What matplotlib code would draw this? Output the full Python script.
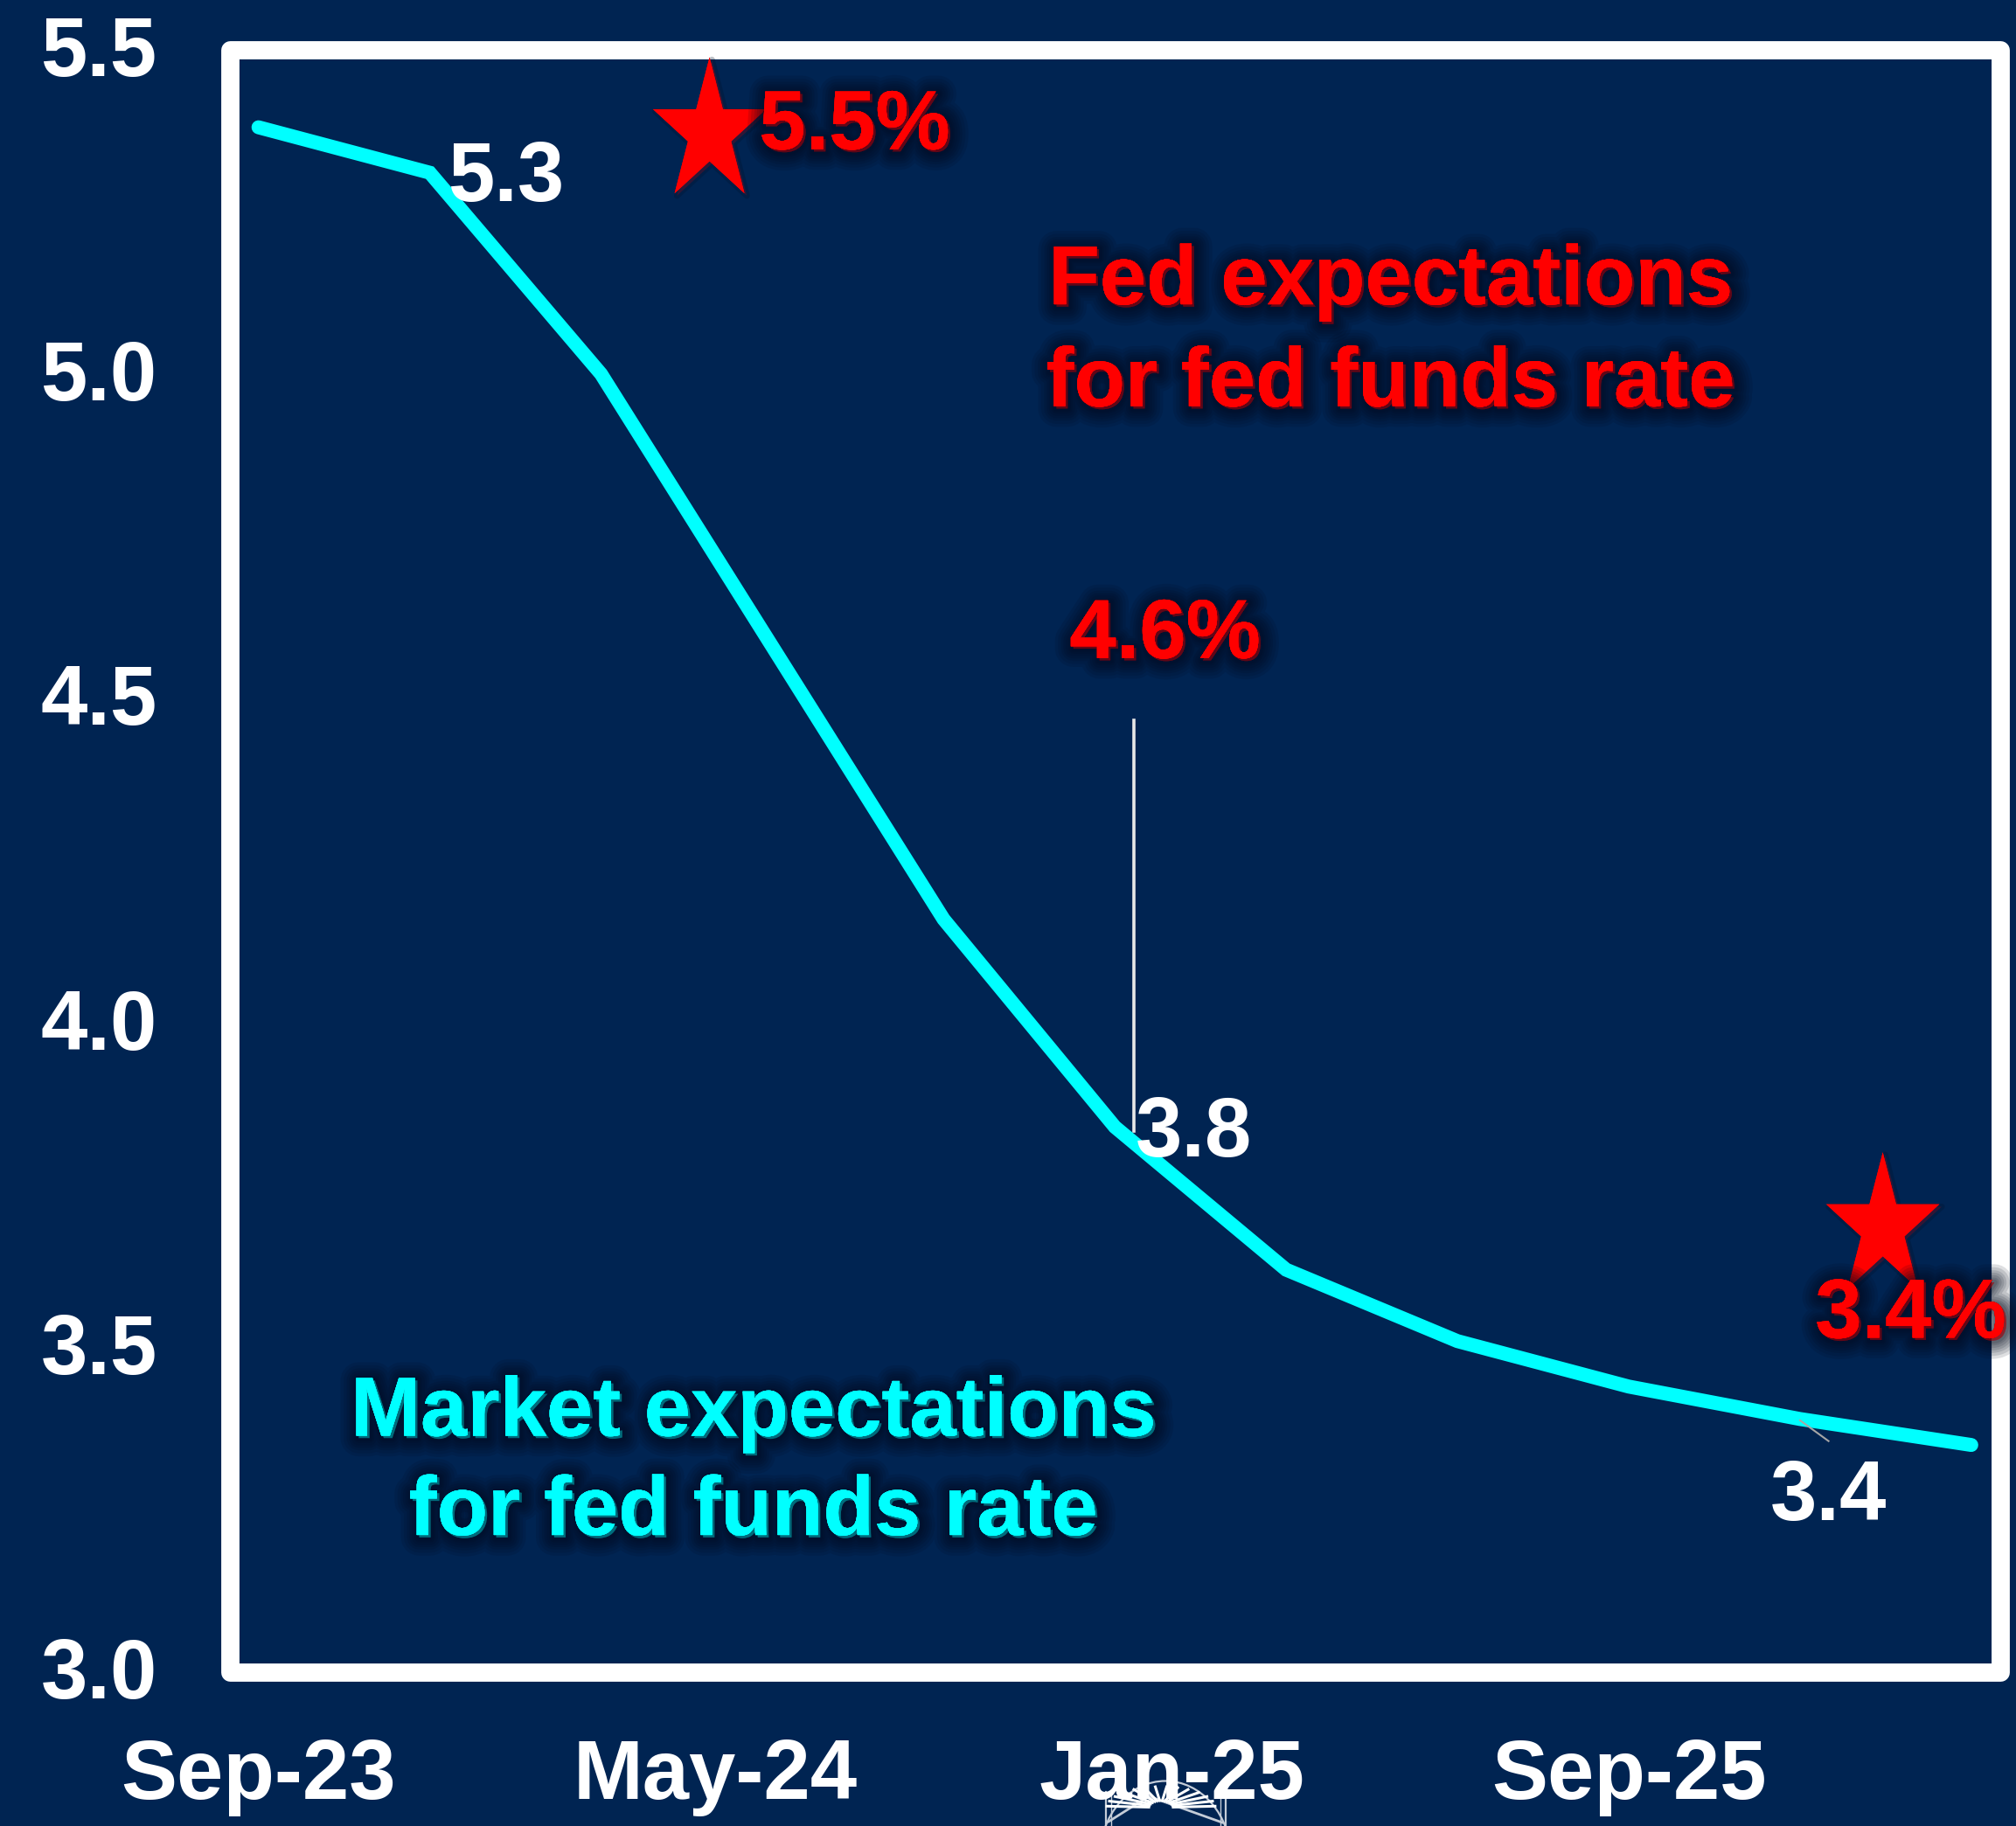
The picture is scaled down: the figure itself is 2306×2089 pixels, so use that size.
import numpy as np
import matplotlib
matplotlib.use('Agg')
import matplotlib.pyplot as plt
import matplotlib.patheffects as pe
from matplotlib.path import Path
from matplotlib.patches import Rectangle, Arc
from matplotlib.transforms import ScaledTranslation

plt.rcParams['font.family'] = ['Liberation Sans', 'DejaVu Sans']
plt.rcParams['font.weight'] = 'bold'

BG = '#002452'
CYAN = '#00FFFF'
RED = '#FF0000'

# months since Sep-23, quarterly readings
market_months = [0, 3, 6, 9, 12, 15, 18, 21, 24, 27, 30]
market_rate = [5.38, 5.31, 5.00, 4.58, 4.16, 3.84, 3.62, 3.51, 3.44, 3.39, 3.35]

# Fed dots
fed_months = [7.9, 28.45]
fed_rate = [5.372, 3.685]

tick_months = [0, 8, 16, 24]
tick_labels = ['Sep-23', 'May-24', 'Jan-25', 'Sep-25']
y_ticks = [3.0, 3.5, 4.0, 4.5, 5.0, 5.5]

FS = 69

fig = plt.figure(figsize=(23.06, 20.89), dpi=100, facecolor=BG)
ax = fig.add_axes([263 / 2306, (2089 - 1913) / 2089, (2287.5 - 263) / 2306, (1913 - 56.5) / 2089], facecolor=BG)
ax.set_xlim(-0.5, 30.5)
ax.set_ylim(3.0, 5.5)

# seal peeking out under the x labels
seal = fig.add_axes([0, 0, 1, 1], facecolor='none', zorder=-1)
seal.set_xlim(0, 2306)
seal.set_ylim(2089, 0)
seal.axis('off')
seal_col = '#C4CCD8'
seal.plot([1265, 1265], [2050, 2089], color=seal_col, lw=1.6)
seal.plot([1271, 1271], [2050, 2089], color=seal_col, lw=1.0)
seal.plot([1402, 1402], [2050, 2089], color=seal_col, lw=1.6)
seal.plot([1396, 1396], [2050, 2089], color=seal_col, lw=1.0)
seal.add_patch(Arc((1333, 2125), 150, 175, theta1=180, theta2=360, color=seal_col, lw=1.6))
seal.plot([1268, 1314, 1398], [2084, 2055, 2085], color=seal_col, lw=2)
for ang in [4, 18, 32, 46, 60, 72, 84, 96, 108, 120, 134, 148, 162, 176]:
    a = np.radians(ang)
    seal.plot([1328 + 14 * np.cos(a), 1328 + 62 * np.cos(a)],
              [2068 - 8 * np.sin(a), 2068 - 24 * np.sin(a)], color='white', lw=2.2)

for s in ax.spines.values():
    s.set_visible(False)
ax.add_patch(Rectangle((0, 0), 1, 1, transform=ax.transAxes, fill=False, edgecolor='white',
                       linewidth=15, joinstyle='round', clip_on=False, zorder=2))

ax.set_xticks(tick_months)
ax.set_xticklabels(tick_labels)
ax.set_yticks(y_ticks)
ax.set_yticklabels(['%.1f' % v for v in y_ticks])
ax.tick_params(axis='x', length=0, pad=54, labelsize=FS, labelcolor='white')
ax.tick_params(axis='y', length=0, pad=60, labelsize=FS, labelcolor='white')
for lb in ax.get_yticklabels():
    lb.set_transform(lb.get_transform() + ScaledTranslation(0, 3.5 / 72, fig.dpi_scale_trans))

# thin leaders
ax.plot([15.33, 15.33], [4.466, 3.833], color='#E8E8E8', lw=2.6, zorder=3)
ax.plot([27.0, 27.5], [3.388, 3.356], color='#A6A6A6', lw=1.5, zorder=5)

ax.plot(market_months, market_rate, color=CYAN, lw=11.5, solid_capstyle='round',
        solid_joinstyle='miter', zorder=4)

# stretched 5 point star
star = Path.unit_regular_star(5, innerCircle=0.381966)
star_path = Path(star.vertices * [0.79, 1.0], star.codes)
ax.plot(fed_months, fed_rate, linestyle='none', marker=star_path, markersize=124,
        markerfacecolor=RED, markeredgewidth=0, zorder=6, clip_on=False,
        path_effects=[pe.withStroke(linewidth=5, foreground='#001025', alpha=0.25, offset=(2, -2)),
                      pe.Normal()])

shadow = [pe.withStroke(linewidth=w, foreground='#000A1E', alpha=0.13, offset=(2, -2))
          for w in (30, 25, 20, 16, 12, 8, 5)]
shadow.append(pe.Normal())


def label(x, y, txt, color, fx=False):
    t = ax.text(x, y, txt, color=color, fontsize=FS, ha='center', va='center', zorder=7, clip_on=False)
    if fx:
        t.set_path_effects(shadow)


label(4.34, 5.30, '5.3', 'white')
label(16.38, 3.828, '3.8', 'white')
label(27.5, 3.268, '3.4', 'white')

label(10.44, 5.38, '5.5%', RED, True)
label(15.88, 4.596, '4.6%', RED, True)
label(28.94, 3.549, '3.4%', RED, True)
label(19.83, 5.141, 'Fed expectations', RED, True)
label(19.83, 4.984, 'for fed funds rate', RED, True)

label(8.67, 3.398, 'Market expectations', CYAN, True)
label(8.67, 3.245, 'for fed funds rate', CYAN, True)

fig.savefig('out.png', dpi=100, facecolor=BG)
